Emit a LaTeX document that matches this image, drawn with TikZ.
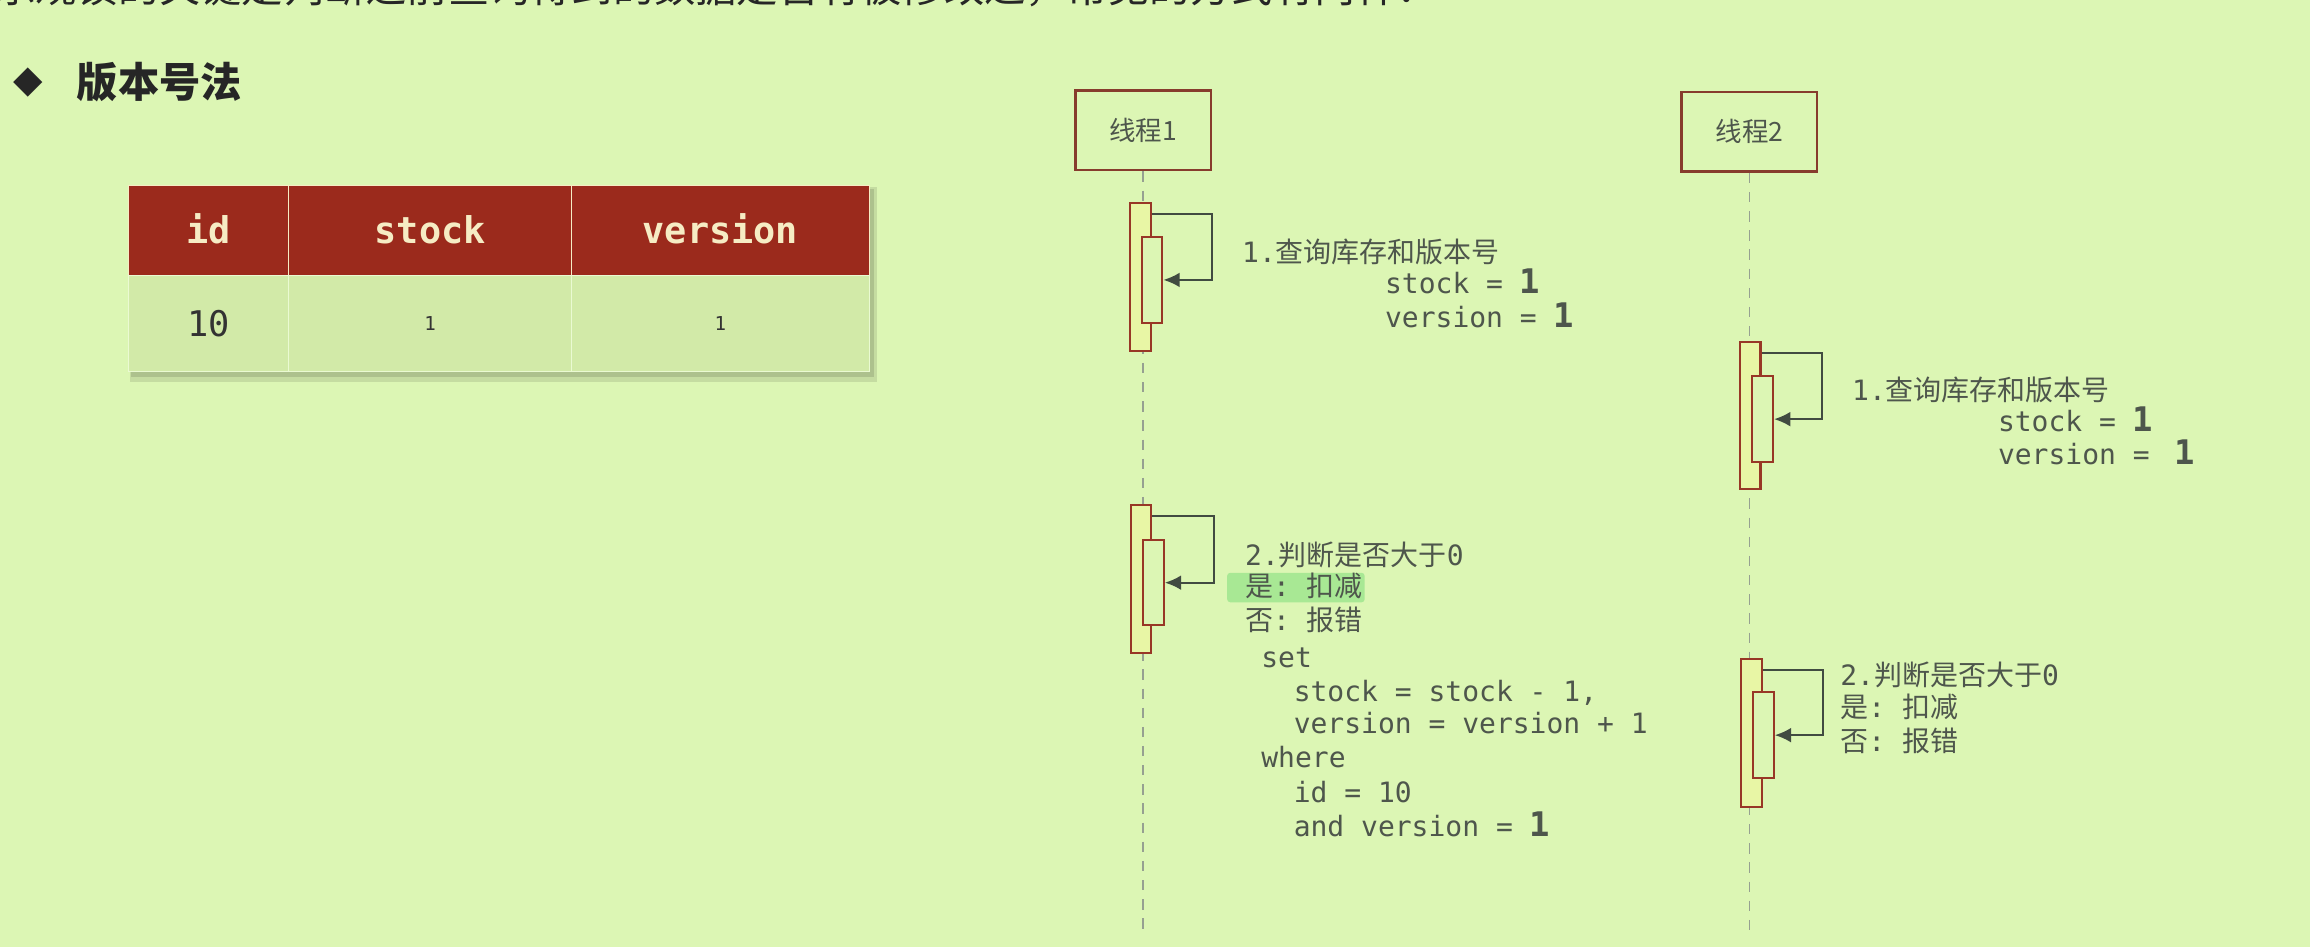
\documentclass[tikz,border=0pt]{standalone}
\usepackage{fontspec}
\setmonofont{DejaVu Sans Mono}
\newfontfamily\cjk{Noto Sans CJK SC}
\newfontfamily\symfont{DejaVu Sans}
\usetikzlibrary{arrows.meta,positioning,backgrounds}

\definecolor{slidebg}{RGB}{220,246,180}
\definecolor{headred}{RGB}{155,42,28}
\definecolor{headtxt}{RGB}{246,236,196}
\definecolor{rowfill}{RGB}{210,234,168}
\definecolor{boxred}{RGB}{135,60,45}
\definecolor{actred}{RGB}{152,55,38}
\definecolor{actfill}{RGB}{232,246,165}
\definecolor{arrgray}{RGB}{65,75,65}
\definecolor{txtgray}{RGB}{78,86,76}
\definecolor{lifegray}{RGB}{150,160,145}
\definecolor{hlgreen}{RGB}{168,232,148}

\tikzset{
  thread/.style={draw=boxred, line width=1.7pt, fill=slidebg, minimum width=92pt, minimum height=54pt, inner sep=0pt, text=txtgray, font=\cjk\fontsize{18}{18}\selectfont},
  life/.style={draw=lifegray, line width=1.3pt, dash pattern=on 7pt off 6pt},
  actbox/.style={draw=actred, fill=actfill, line width=1.4pt, minimum width=14pt, minimum height=100pt, inner sep=0pt},
  subbox/.style={draw=actred, fill=slidebg, line width=1.4pt, minimum width=14pt, minimum height=58pt, inner sep=0pt},
  selfcall/.style={draw=arrgray, line width=1.4pt, -{Latex[length=11pt,width=10pt]}},
  note/.style={anchor=base west, inner sep=0pt, text=txtgray, font=\ttfamily\fontsize{19}{23}\selectfont},
  headcell/.style={fill=headred, draw=headtxt, line width=0.8pt, outer sep=0pt, text=headtxt, minimum height=61pt, inner sep=0pt, text height=18pt, text depth=0pt, font=\ttfamily\bfseries\fontsize{25}{25}\selectfont},
  bodycell/.style={fill=rowfill, draw=slidebg!60!white, line width=0.6pt, outer sep=0pt, text=black!80, minimum height=65pt, inner sep=0pt}
}
\newcommand{\one}{{\bfseries\fontsize{23}{23}\selectfont 1}}

\begin{document}
\begin{tikzpicture}[x=1pt,y=-1pt]
  \useasboundingbox (0,0) rectangle (1568,643);
  \begin{scope}[on background layer]
    \fill[slidebg] (0,0) rectangle (1568,643);
  \end{scope}

  % heading
  \node[anchor=base west, inner sep=0pt, text=black!85, font=\cjk\fontsize{28}{28}\selectfont] (intro) at (-4,2) {乐观锁的关键是判断之前查询得到的数据是否有被修改过，常见的方式有两种：};
  \node[inner sep=0pt, text=black!85, font=\symfont\fontsize{26}{26}\selectfont] (dia) at (19,56) {◆};
  \node[anchor=west, inner sep=0pt, text=black!85, font=\cjk\bfseries\fontsize{28}{28}\selectfont] (ttl) at (52,56) {版本号法};

  % table
  \node[headcell, minimum width=109pt] (hid) at (141.5,156.5) {id};
  \node[headcell, minimum width=192pt, right=0pt of hid] (hstock) {stock};
  \node[headcell, minimum width=202pt, right=0pt of hstock] (hver) {version};
  \node[bodycell, minimum width=109pt, below=0pt of hid, font=\ttfamily\fontsize{24}{24}\selectfont] (bid) {10};
  \node[bodycell, minimum width=192pt, below=0pt of hstock, font=\ttfamily\fontsize{13}{13}\selectfont] (bstock) {1};
  \node[bodycell, minimum width=202pt, below=0pt of hver, font=\ttfamily\fontsize{13}{13}\selectfont] (bver) {1};

  % threads
  \node[thread] (t1) at (776,88.5) {线程1};
  \node[thread] (t2) at (1187.5,89.5) {线程2};
  \coordinate (t1end) at (776,632);
  \coordinate (t2end) at (1187.5,632);
  \draw[life] (t1) -- (t1end);
  \draw[life] (t2) -- (t2end);

  % thread 1
  \node[actbox] (a11) at (774,188) {};
  \node[subbox] (s11) at (782,190) {};
  \draw[selfcall] ([yshift=-8pt]a11.north east) -- ++(41,0) |- (s11.east);
  \node[actbox] (a12) at (774.5,393) {};
  \node[subbox] (s12) at (783,395.5) {};
  \draw[selfcall] ([yshift=-8pt]a12.north east) -- ++(42,0) |- (s12.east);

  \node[note] (q1) at (843,178) {1.{\cjk 查询库存和版本号}};
  \node[note] (qs1) at (940,199) {stock = \one};
  \node[note, below=23pt of qs1.base west, anchor=base west] (qv1) {version = \one};

  \node[note] (j1) at (845,384) {2.{\cjk 判断是否大于}0};
  \node[note, below=21pt of j1.base west, anchor=base west] (y1) {{\cjk 是}: {\cjk 扣减}};
  \node[note, below=23pt of y1.base west, anchor=base west] (n1) {{\cjk 否}: {\cjk 报错}};
  \node[note, below=25pt of n1.base west, anchor=base west, xshift=11pt] (set1) {set};
  \node[note, below=23pt of set1.base west, anchor=base west, xshift=22pt] (upd1) {stock = stock - 1,};
  \node[note, below=22pt of upd1.base west, anchor=base west] (upd2) {version = version + 1};
  \node[note, below=23pt of upd2.base west, anchor=base west, xshift=-22pt] (whr1) {where};
  \node[note, below=24pt of whr1.base west, anchor=base west, xshift=22pt] (cid1) {id = 10};
  \node[note, below=23pt of cid1.base west, anchor=base west] (cver1) {and version = \one};

  % thread 2
  \node[actbox] (a21) at (1188,282) {};
  \node[subbox] (s21) at (1196.5,284.5) {};
  \draw[selfcall] ([yshift=-8pt]a21.north east) -- ++(41,0) |- (s21.east);
  \node[actbox] (a22) at (1189,497.5) {};
  \node[subbox] (s22) at (1197,499) {};
  \draw[selfcall] ([yshift=-8pt]a22.north east) -- ++(41,0) |- (s22.east);

  \node[note] (q2) at (1257,272) {1.{\cjk 查询库存和版本号}};
  \node[note] (qs2) at (1356,293) {stock = \one};
  \node[note, below=22pt of qs2.base west, anchor=base west] (qv2) {version =\hspace{17pt}\one};

  \node[note] (j2) at (1249,465) {2.{\cjk 判断是否大于}0};
  \node[note, below=22pt of j2.base west, anchor=base west] (y2) {{\cjk 是}: {\cjk 扣减}};
  \node[note, below=23pt of y2.base west, anchor=base west] (n2) {{\cjk 否}: {\cjk 报错}};

  % shadow and highlight
  \begin{scope}[on background layer]
    \fill[black, opacity=0.10] ([xshift=1pt,yshift=-1pt]hid.north west) rectangle ([xshift=5pt,yshift=-7pt]bver.south east);
    \fill[black, opacity=0.12] ([xshift=2pt,yshift=-2pt]hid.north west) rectangle ([xshift=3pt,yshift=-4pt]bver.south east);
    \fill[hlgreen, rounded corners=2pt] ([xshift=-12pt]y1.north west) rectangle ([xshift=1pt,yshift=-2pt]y1.south east);
  \end{scope}
\end{tikzpicture}
\end{document}
